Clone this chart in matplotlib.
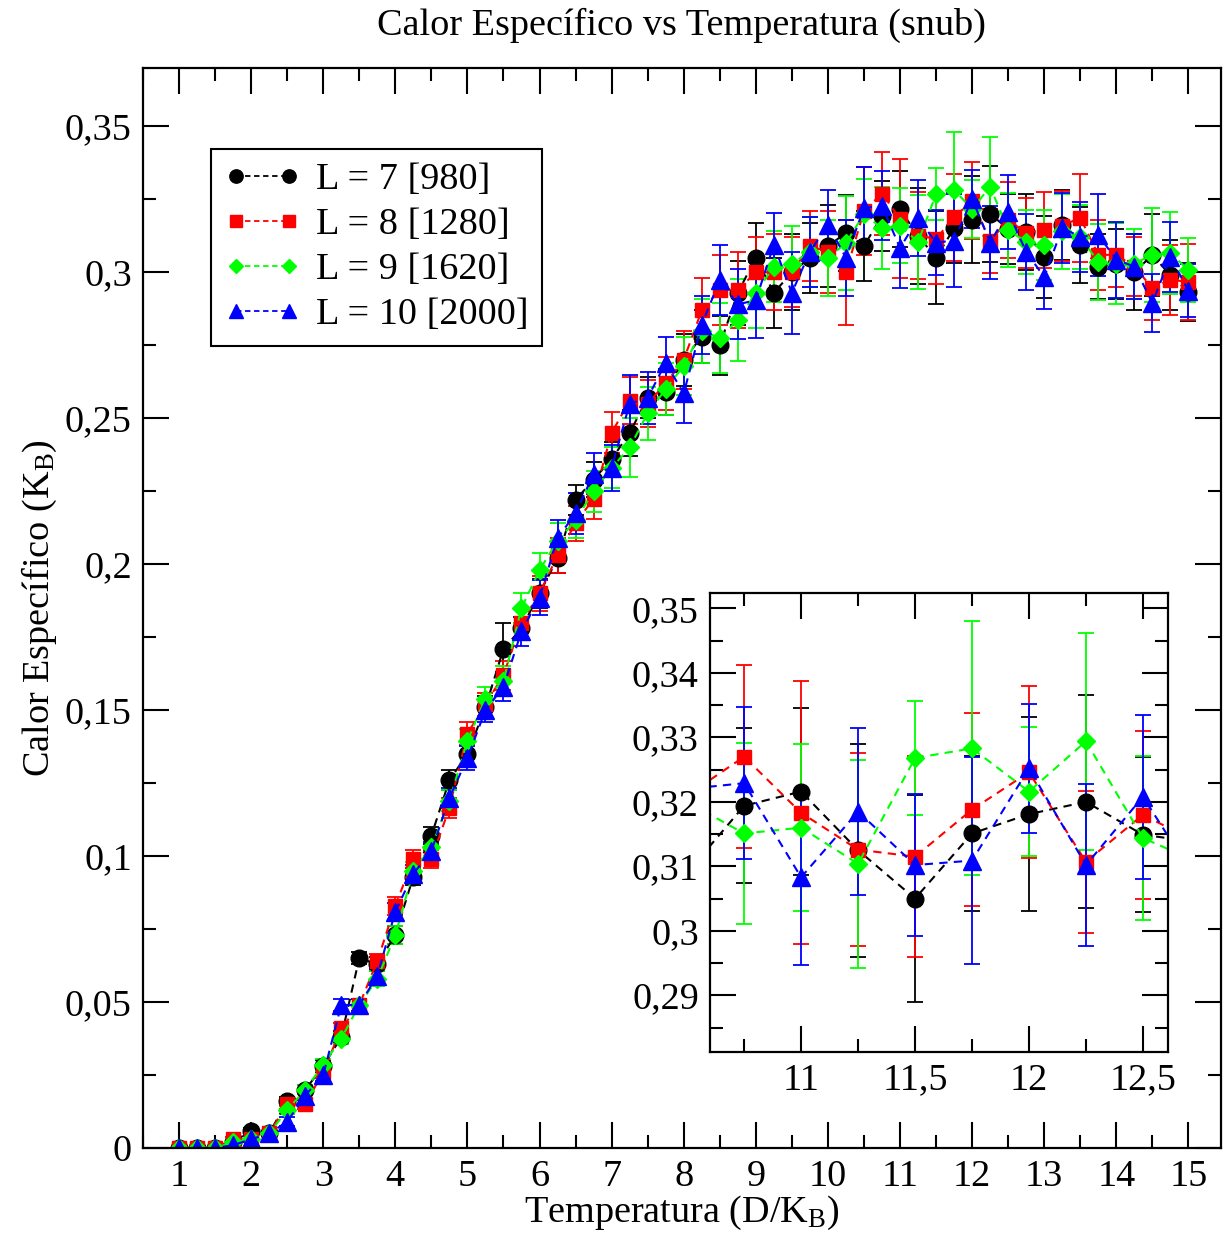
import numpy as np
import matplotlib
matplotlib.use("Agg")
import matplotlib.pyplot as plt
from matplotlib.lines import Line2D
from matplotlib.ticker import MultipleLocator, FuncFormatter

plt.rcParams['font.family'] = ['Liberation Serif', 'DejaVu Serif']
plt.rcParams['mathtext.fontset'] = 'custom'
plt.rcParams['mathtext.rm'] = 'Liberation Serif'
plt.rcParams['mathtext.it'] = 'Liberation Serif:italic'

FS = 27.5

# temperature grid (D/K_B)
temps = [1.0, 1.25, 1.5, 1.75, 2.0, 2.25, 2.5, 2.75, 3.0, 3.25,
         3.5, 3.75, 4.0, 4.25, 4.5, 4.75, 5.0, 5.25, 5.5, 5.75,
         6.0, 6.25, 6.5, 6.75, 7.0, 7.25, 7.5, 7.75, 8.0, 8.25,
         8.5, 8.75, 9.0, 9.25, 9.5, 9.75, 10.0, 10.25, 10.5, 10.75,
         11.0, 11.25, 11.5, 11.75, 12.0, 12.25, 12.5, 12.75, 13.0, 13.25,
         13.5, 13.75, 14.0, 14.25, 14.5, 14.75, 15.0]

# specific heat, one list per lattice size
c_L7 = [0.0, 0.0, 0.0, 0.002, 0.006, 0.005, 0.016, 0.020, 0.028, 0.038,
        0.065, 0.063, 0.073, 0.093, 0.107, 0.126, 0.135, 0.151, 0.171, 0.178,
        0.190, 0.202, 0.222, 0.229, 0.236, 0.245, 0.257, 0.259, 0.270, 0.278,
        0.275, 0.293, 0.305, 0.293, 0.300, 0.305, 0.309, 0.3135, 0.309, 0.3194,
        0.3216, 0.3125, 0.3050, 0.3151, 0.3181, 0.3200, 0.3149, 0.3137, 0.3053, 0.3163,
        0.3094, 0.3020, 0.303, 0.300, 0.306, 0.299, 0.2933]
c_L8 = [0.0, 0.0, 0.0, 0.003, 0.003, 0.005, 0.015, 0.015, 0.026, 0.041,
        0.049, 0.064, 0.083, 0.099, 0.099, 0.1165, 0.142, 0.152, 0.162, 0.180,
        0.190, 0.203, 0.214, 0.2225, 0.245, 0.256, 0.255, 0.262, 0.270, 0.287,
        0.294, 0.294, 0.300, 0.300, 0.300, 0.309, 0.307, 0.300, 0.321, 0.3270,
        0.3183, 0.3126, 0.3115, 0.3188, 0.3246, 0.3107, 0.3180, 0.3135, 0.3146, 0.316,
        0.3187, 0.306, 0.306, 0.302, 0.2946, 0.2975, 0.2967]
c_L9 = [0.0, 0.0, 0.0, 0.002, 0.003, 0.005, 0.013, 0.020, 0.0285, 0.0375,
        0.049, 0.058, 0.073, 0.095, 0.103, 0.119, 0.1395, 0.154, 0.160, 0.185,
        0.198, 0.208, 0.215, 0.225, 0.233, 0.240, 0.2517, 0.260, 0.268, 0.280,
        0.2775, 0.2837, 0.293, 0.302, 0.303, 0.307, 0.305, 0.310, 0.320, 0.3151,
        0.3160, 0.3104, 0.3268, 0.3283, 0.3216, 0.3294, 0.3144, 0.3105, 0.3094, 0.314,
        0.312, 0.3036, 0.303, 0.303, 0.306, 0.3066, 0.3008]
c_L10 = [0.0, 0.0, 0.0, 0.001, 0.003, 0.005, 0.009, 0.018, 0.025, 0.049,
         0.049, 0.059, 0.081, 0.094, 0.1017, 0.120, 0.1336, 0.150, 0.158, 0.177,
         0.1885, 0.209, 0.2174, 0.231, 0.233, 0.255, 0.257, 0.269, 0.2585, 0.282,
         0.2974, 0.289, 0.2905, 0.3094, 0.293, 0.307, 0.3163, 0.305, 0.322, 0.3229,
         0.3083, 0.3185, 0.3102, 0.3109, 0.3252, 0.3102, 0.3208, 0.307, 0.2984, 0.3152,
         0.3122, 0.3128, 0.3043, 0.302, 0.2895, 0.3053, 0.2937]

# error bars
e_L7 = [0.0005, 0.0005, 0.0005, 0.0008, 0.001, 0.001, 0.0015, 0.0015, 0.002, 0.002,
        0.002, 0.0025, 0.003, 0.003, 0.003, 0.0035, 0.004, 0.004, 0.009, 0.004,
        0.005, 0.005, 0.005, 0.006, 0.006, 0.008, 0.007, 0.008, 0.009, 0.009,
        0.010, 0.011, 0.012, 0.012, 0.013, 0.012, 0.014, 0.013, 0.012, 0.012,
        0.013, 0.0165, 0.016, 0.012, 0.015, 0.0165, 0.012, 0.013, 0.014, 0.012,
        0.013, 0.011, 0.012, 0.013, 0.014, 0.012, 0.010]
e_L8 = [0.0005, 0.0005, 0.0005, 0.0008, 0.001, 0.001, 0.0015, 0.0015, 0.002, 0.002,
        0.002, 0.0025, 0.003, 0.003, 0.003, 0.0035, 0.004, 0.004, 0.005, 0.005,
        0.006, 0.006, 0.006, 0.007, 0.007, 0.008, 0.008, 0.009, 0.010, 0.011,
        0.012, 0.013, 0.012, 0.013, 0.012, 0.012, 0.014, 0.018, 0.015, 0.0142,
        0.0204, 0.015, 0.0156, 0.015, 0.0133, 0.011, 0.013, 0.012, 0.013, 0.012,
        0.015, 0.012, 0.011, 0.010, 0.011, 0.012, 0.013]
e_L9 = [0.0005, 0.0005, 0.0005, 0.0008, 0.001, 0.001, 0.0015, 0.0015, 0.002, 0.002,
        0.002, 0.0025, 0.003, 0.003, 0.003, 0.0035, 0.004, 0.004, 0.005, 0.005,
        0.006, 0.006, 0.006, 0.007, 0.007, 0.010, 0.009, 0.009, 0.010, 0.011,
        0.012, 0.014, 0.012, 0.012, 0.013, 0.012, 0.013, 0.016, 0.012, 0.0141,
        0.0129, 0.0161, 0.0088, 0.0197, 0.010, 0.0168, 0.0127, 0.011, 0.012, 0.013,
        0.011, 0.013, 0.014, 0.012, 0.016, 0.014, 0.011]
e_L10 = [0.0005, 0.0005, 0.0005, 0.0008, 0.001, 0.001, 0.0015, 0.0015, 0.002, 0.002,
         0.002, 0.0025, 0.003, 0.003, 0.003, 0.0035, 0.004, 0.004, 0.005, 0.005,
         0.006, 0.006, 0.007, 0.007, 0.008, 0.010, 0.009, 0.009, 0.010, 0.010,
         0.012, 0.012, 0.013, 0.011, 0.014, 0.012, 0.012, 0.013, 0.014, 0.0118,
         0.0136, 0.013, 0.011, 0.016, 0.010, 0.0126, 0.0127, 0.013, 0.011, 0.012,
         0.012, 0.014, 0.013, 0.011, 0.010, 0.012, 0.009]

labels = ['L = 7 [980]', 'L = 8 [1280]', 'L = 9 [1620]', 'L = 10 [2000]']
colors = ['black', '#ff0000', '#00ff00', '#0000ff']
markers = ['o', 's', 'D', '^']
msizes = [12, 10.5, 9.5, 12.5]
series = [(c_L7, e_L7), (c_L8, e_L8), (c_L9, e_L9), (c_L10, e_L10)]

comma = FuncFormatter(lambda v, p: ('%g' % round(v, 4)).replace('.', ','))


def draw(ax):
    for (c, e), col, m, ms in zip(series, colors, markers, msizes):
        ax.errorbar(temps, c, yerr=e, color=col, ecolor=col, marker=m,
                    markersize=ms, linestyle=(0, (4, 3)), linewidth=1.5,
                    elinewidth=1.3, capsize=6, capthick=1.3)


def style(ax):
    ax.tick_params(which='both', direction='in', top=True, right=True,
                   labelsize=FS, width=1.5, pad=8)
    ax.tick_params(which='major', length=19)
    ax.tick_params(which='minor', length=9.5)
    for s in ax.spines.values():
        s.set_linewidth(1.6)
    ax.yaxis.set_major_formatter(comma)
    ax.xaxis.set_major_formatter(comma)


fig = plt.figure(figsize=(12.27, 12.39), dpi=100)
ax = fig.add_axes([0.1165, 0.0734, 0.8785, 0.8717])
draw(ax)
ax.set_xlim(0.5, 15.45)
ax.set_ylim(0, 0.37)
ax.xaxis.set_major_locator(MultipleLocator(1))
ax.xaxis.set_minor_locator(MultipleLocator(0.5))
ax.yaxis.set_major_locator(MultipleLocator(0.05))
ax.yaxis.set_minor_locator(MultipleLocator(0.025))
style(ax)
ax.set_title('Calor Específico vs Temperatura (snub)', fontsize=FS, pad=24)
ax.set_xlabel('Temperatura (D/K$_\\mathrm{B}$)', fontsize=FS, labelpad=0)
ax.set_ylabel('Calor Específico (K$_\\mathrm{B}$)', fontsize=FS, labelpad=4)

handles = [Line2D([], [], color=col, marker=m, markersize=ms * 0.8,
                  linestyle=(0, (3, 2)), linewidth=1.3)
           for col, m, ms in zip(colors, markers, msizes)]
leg = ax.legend(handles, labels, loc='upper left', bbox_to_anchor=(0.063, 0.925),
                borderaxespad=0, fontsize=FS, numpoints=2, handlelength=2.0,
                handletextpad=0.4, labelspacing=0.27, borderpad=0.35,
                fancybox=False, framealpha=1, edgecolor='black')
leg.get_frame().set_linewidth(1.5)

ins = fig.add_axes([0.5786, 0.1509, 0.3733, 0.3705])
draw(ins)
ins.set_xlim(10.6, 12.61)
ins.set_ylim(0.2812, 0.3524)
ins.xaxis.set_major_locator(MultipleLocator(0.5))
ins.xaxis.set_minor_locator(MultipleLocator(0.25))
ins.yaxis.set_major_locator(MultipleLocator(0.01))
ins.yaxis.set_minor_locator(MultipleLocator(0.005))
style(ins)

fig.savefig('out.png', dpi=100)
